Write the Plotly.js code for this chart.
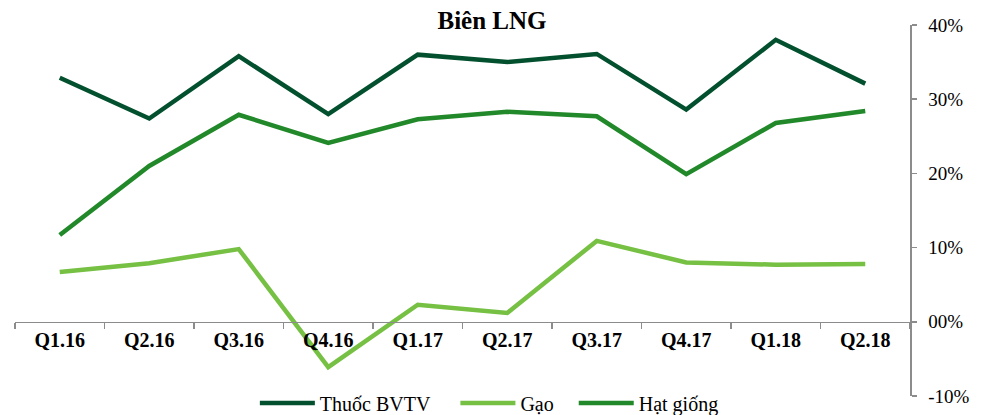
<!DOCTYPE html>
<html><head><meta charset="utf-8">
<script src="https://cdn.plot.ly/plotly-3.0.1.min.js"></script>
<style>html,body{margin:0;padding:0;background:#fff;}#chart{width:984px;height:415px;}</style>
</head><body><div id="chart"></div>
<script>
var categories = ["Q1.16","Q2.16","Q3.16","Q4.16","Q1.17","Q2.17","Q3.17","Q4.17","Q1.18","Q2.18"];
var thuocBVTV = [0.329,0.274,0.358,0.280,0.360,0.350,0.361,0.286,0.380,0.321];
var gao       = [0.067,0.079,0.098,-0.061,0.023,0.012,0.109,0.080,0.077,0.078];
var hatGiong  = [0.117,0.210,0.279,0.241,0.273,0.283,0.277,0.199,0.268,0.284];
var seriesNames = ["Thuốc BVTV","Gạo","Hạt giống"];
var yTickVals = [-0.1,0,0.1,0.2,0.3,0.4];
var yTickText = ["-10%","00%","10%","20%","30%","40%"];

var colors = ["#03502E","#76C043","#22892A"];
var pads = ["\u00a0\u00a0\u00a0\u00a0", "\u00a0\u00a0\u00a0", ""];
var serif = "'Liberation Serif', serif";
function tr(i, y){
  return {x: categories, y: y, name: seriesNames[i] + pads[i], type: "scatter", mode: "lines",
    line: {color: colors[i], width: 4.5}, yaxis: "y", xaxis: "x", hoverinfo: "skip"};
}
var data = [tr(0, thuocBVTV), tr(1, gao), tr(2, hatGiong)];
var layout = {
  width: 984, height: 415,
  font: {family: serif, color: "#000"},
  margin: {l: 15, r: 74, t: 25, b: 19, autoexpand: false},
  paper_bgcolor: "#fff", plot_bgcolor: "#fff",
  title: {text: "<b>Biên LNG</b>", font: {family: serif, size: 25, color: "#000"}, x: 0.5, xanchor: "center", y: 0.952, yanchor: "middle", yref: "container"},
  showlegend: true,
  legend: {orientation: "h", x: 0.268, xanchor: "left", y: -0.019, yanchor: "middle", font: {family: serif, size: 20, color: "#000"}, itemwidth: 55, tracegroupgap: 0, bgcolor: "rgba(0,0,0,0)"},
  xaxis: {type: "category", anchor: "free", position: 0.2, showline: true, linecolor: "#8c8c8c", linewidth: 1.5,
    ticks: "outside", tickson: "boundaries", ticklen: 6, tickcolor: "#8c8c8c", tickwidth: 1.5,
    showgrid: false, zeroline: false, tickfont: {family: serif, size: 20, color: "#000", weight: "bold"}, range: [-0.5, 9.5], fixedrange: true},
  yaxis: {side: "right", range: [-0.1, 0.4], tickvals: yTickVals, ticktext: yTickText, showline: true, linecolor: "#8c8c8c", linewidth: 1.5,
    ticks: "outside", ticklen: 5, tickcolor: "#8c8c8c", tickwidth: 1.5, showgrid: false, zeroline: false,
    tickfont: {family: serif, size: 19, color: "#000"}, ticklabelstandoff: 8, fixedrange: true}
};
Plotly.newPlot("chart", data, layout, {staticPlot: true, displayModeBar: false});
</script></body></html>
